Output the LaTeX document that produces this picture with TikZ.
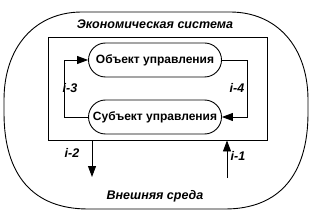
\documentclass[tikz,border=0pt]{standalone}
\usepackage{fontspec}
\setmainfont{Liberation Sans}
\usetikzlibrary{arrows.meta}
\begin{document}
\begin{tikzpicture}[x=1pt,y=-1pt,
  line width=0.9pt,
  pill/.style={draw, rounded corners=17pt, minimum width=133pt, minimum height=34pt,
    inner sep=0pt, font=\fontsize{12}{14}\selectfont\bfseries},
  lbl/.style={font=\fontsize{12.5}{14}\selectfont\bfseries\itshape, inner sep=0pt},
  arr/.style={-{Triangle[length=11pt,width=8pt]}}
]
\useasboundingbox (0,0) rectangle (312,213);
% outer shape
\draw (82,12) -- (230,12)
  .. controls (277,12) and (308,47) .. (308,100)
  -- (308,113)
  .. controls (308,175) and (279,209) .. (225,209)
  -- (88,209)
  .. controls (33,209) and (4,175) .. (4,113)
  -- (4,100)
  .. controls (4,47) and (35,12) .. (82,12) -- cycle;
\node[lbl] (ext) at (155,24) {Экономическая система};
\node[lbl] (env) at (155,196) {Внешняя среда};
% inner system rectangle
\node[draw, minimum width=219pt, minimum height=103pt, inner sep=0pt] (sys) at (157.5,88.5) {};
\node[pill] (obj) at (155,60) {Объект управления};
\node[pill] (subj) at (155,117) {Субъект управления};
\draw[arr] (subj.west) -- ++(-24,0) |- (obj.west);
\draw[arr] (obj.east) -- ++(25,0) |- (subj.east);
\node[lbl] (l3) at (70,88) {i-3};
\node[lbl] (l4) at (237,88) {i-4};
\coordinate (e2) at (92,177);
\coordinate (e1) at (227,178);
\draw[arr] (sys.south -| e2) -- (e2);
\draw[arr] (e1) -- (e1 |- sys.south);
\node[lbl] (l2) at (72,153) {i-2};
\node[lbl] (l1) at (238,156) {i-1};
\end{tikzpicture}
\end{document}
